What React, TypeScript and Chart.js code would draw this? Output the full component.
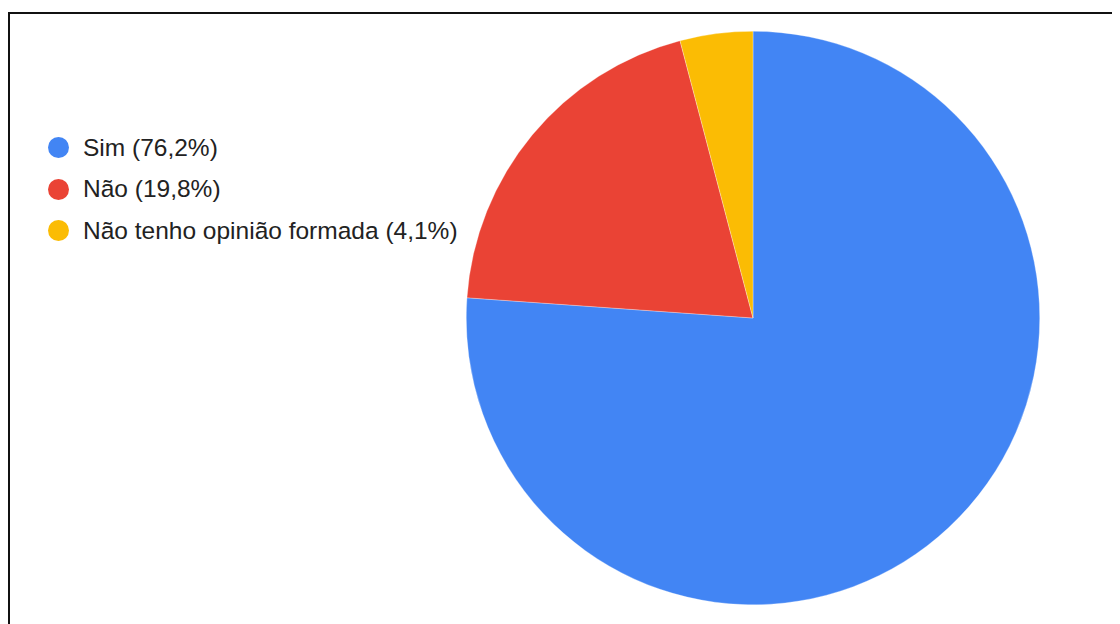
import React, { useEffect, useRef } from "react";
import { Chart, registerables } from "chart.js";

Chart.register(...registerables);

const categories: string[] = ["Sim", "Não", "Não tenho opinião formada"];
const values: number[] = [76.2, 19.8, 4.1];
const valueLabels: string[] = ["76,2%", "19,8%", "4,1%"];
const colors: string[] = ["#4285F4", "#EA4335", "#FBBC04"];

export default function App() {
  const canvasRef = useRef<HTMLCanvasElement | null>(null);

  useEffect(() => {
    if (!canvasRef.current) return;
    const chart = new Chart(canvasRef.current, {
      type: "pie",
      data: {
        labels: categories,
        datasets: [
          {
            data: values,
            backgroundColor: colors,
            borderColor: "rgba(255,255,255,0.6)",
            borderWidth: 0.5,
          },
        ],
      },
      options: {
        responsive: false,
        animation: false,
        layout: { padding: 0 },
        plugins: {
          legend: { display: false },
          tooltip: { enabled: false },
        },
      },
    });
    return () => chart.destroy();
  }, []);

  return (
    <div
      style={{
        position: "relative",
        width: 1112,
        height: 616,
        overflow: "hidden",
        background: "#fff",
        fontFamily: "'Liberation Sans', Arial, sans-serif",
      }}
    >
      <div
        style={{
          position: "absolute",
          left: 0,
          top: 4,
          width: 1200,
          height: 700,
          borderLeft: "2px solid #111",
          borderTop: "2px solid #111",
        }}
      />
      <div style={{ position: "absolute", left: 40, top: 119 }}>
        {categories.map((c, i) => (
          <div
            key={c}
            style={{
              display: "flex",
              alignItems: "center",
              height: 41.5,
              whiteSpace: "nowrap",
            }}
          >
            <span
              style={{
                display: "inline-block",
                width: 21,
                height: 21,
                borderRadius: "50%",
                background: colors[i],
                marginRight: 14,
                flexShrink: 0,
              }}
            />
            <span style={{ fontSize: 24.5, color: "#222", lineHeight: 1 }}>
              {c} ({valueLabels[i]})
            </span>
          </div>
        ))}
      </div>
      <canvas
        ref={canvasRef}
        width={574}
        height={574}
        style={{ position: "absolute", left: 458, top: 23 }}
      />
    </div>
  );
}
